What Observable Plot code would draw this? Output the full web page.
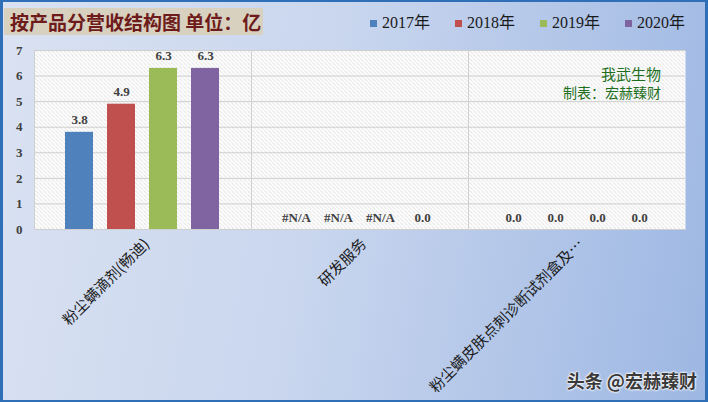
<!DOCTYPE html>
<html><head><meta charset="utf-8">
<script src="https://cdn.jsdelivr.net/npm/d3@7"></script>
<script src="https://cdn.jsdelivr.net/npm/@observablehq/plot@0.6"></script>
<style>
html,body{margin:0;padding:0;}
#chart{position:relative;width:708px;height:402px;overflow:hidden;background:linear-gradient(100deg,#dae2f2 0%,#c9d6ee 45%,#9db7e3 100%);}
#border{position:absolute;left:0;top:0;width:708px;height:402px;box-sizing:border-box;border:2px solid #2f6fb8;border-left-width:3px;border-right-width:3px;pointer-events:none;}
#title{position:absolute;left:4px;top:8px;width:259px;height:27px;background:#d8d1bf;color:#6e1b1b;font:700 19px "Noto Sans CJK SC",sans-serif;line-height:27px;padding-left:6px;box-sizing:border-box;white-space:nowrap;}
#legend{position:absolute;left:370px;top:12px;display:flex;gap:25px;font:16px "Liberation Serif","Noto Sans CJK SC",serif;color:#1a1a1a;line-height:22px;}
#legend .item{display:flex;align-items:center;gap:5px;}
#legend .sw{width:7px;height:7px;display:inline-block;}
#note{position:absolute;right:47px;top:64px;text-align:right;color:#1d6f1d;font:15px "Noto Sans CJK SC",sans-serif;line-height:19px;}
#note .l2{font-size:14px;}
#wm{position:absolute;right:11px;top:367px;font:700 18px "Noto Sans CJK SC",sans-serif;color:#3a3a3a;text-shadow:0 0 2px #fff,0 0 2px #fff,0 0 3px #fff;}
#plot{position:absolute;left:0;top:0;}
</style>
</head><body>
<div id="chart">
  <div id="plot"></div>
  <div id="title">按产品分营收结构图 单位：亿</div>
  <div id="legend"></div>
  <div id="note"><div>我武生物</div><div class="l2">制表：宏赫臻财</div></div>
  <div id="wm">头条 @宏赫臻财</div>
  <div id="border"></div>
</div>
<script>
const categories = ["粉尘螨滴剂(畅迪)", "研发服务", "粉尘螨皮肤点刺诊断试剂盒及…"];
const series = ["2017年", "2018年", "2019年", "2020年"];
const product1 = [3.8, 4.9, 6.3, 6.3];
const product2 = [null, null, null, 0];
const product3 = [0, 0, 0, 0];
const colors = ["#4f81bd", "#c0504d", "#9bbb59", "#8064a2"];
const yTicks = [0, 1, 2, 3, 4, 5, 6, 7];

const valuesByCat = [product1, product2, product3];
const data = [];
categories.forEach((c, i) => series.forEach((s, j) => data.push({category: c, series: s, value: valuesByCat[i][j]})));

const legend = document.getElementById("legend");
series.forEach((s, j) => {
  const it = document.createElement("div");
  it.className = "item";
  it.innerHTML = `<span class="sw" style="background:${colors[j]}"></span><span>${s}</span>`;
  legend.appendChild(it);
});

const numFont = "Liberation Serif, serif";
const svg = Plot.plot({
  width: 708, height: 402,
  marginLeft: 33, marginRight: 22, marginTop: 50, marginBottom: 173,
  style: {background: "transparent", overflow: "visible"},
  fx: {domain: categories, padding: 0, label: null},
  x: {domain: series, paddingInner: 0.3256, paddingOuter: 0.698, axis: null},
  y: {domain: [0, 7], label: null},
  color: {domain: series, range: colors},
  marks: [
    Plot.frame({fill: "url(#hatch)", stroke: null}),
    Plot.gridY(yTicks, {stroke: "#cfcfcf", strokeOpacity: 1}),
    Plot.frame({anchor: "left", stroke: "#cfcfcf", strokeOpacity: 1}),
    Plot.barY(data, {fx: "category", x: "series", y: d => d.value ?? 0, fill: "series"}),
    Plot.text(data, {fx: "category", x: "series", y: d => d.value ?? 0,
      text: d => d.value == null ? "#N/A" : d.value.toFixed(1),
      lineAnchor: "bottom", dy: -8, fontWeight: "bold", fontSize: 13, fontFamily: numFont, fill: "#404040"}),
    Plot.axisY(yTicks, {tickSize: 0, tickPadding: 12, fontWeight: "bold", fontSize: 13, fontFamily: numFont, fill: "#404040", label: null}),
    Plot.axisFx({anchor: "bottom", tickRotate: -45, tickSize: 0, tickPadding: 12, dx: 4, fontSize: 15, fontFamily: "Noto Sans CJK SC, sans-serif", fill: "#1a1a1a", label: null})
  ]
});
const defs = document.createElementNS("http://www.w3.org/2000/svg", "defs");
defs.innerHTML = `<pattern id="hatch" patternUnits="userSpaceOnUse" width="4" height="4">
<rect width="4" height="4" fill="#ffffff"/>
<path d="M-1,-1L5,5M-1,3L1,5M3,-1L5,1" stroke="#b3b3b3" stroke-width="0.8" stroke-dasharray="1.2,0.8"/></pattern>`;
svg.insertBefore(defs, svg.firstChild);
document.getElementById("plot").appendChild(svg);
</script>
</body></html>
